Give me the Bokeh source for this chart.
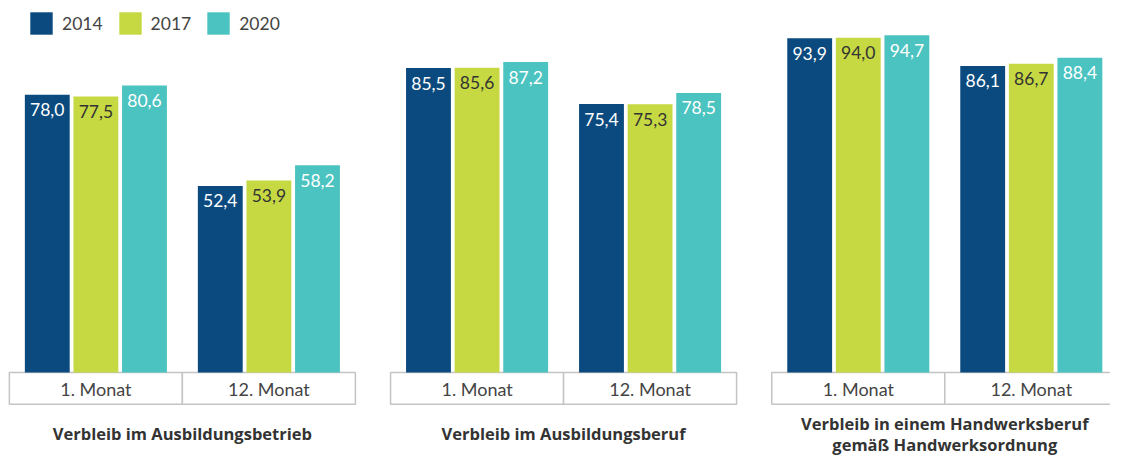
from bokeh.plotting import figure
from bokeh.models import Range1d, Legend, LegendItem, ColumnDataSource
from bokeh.core.properties import value
from bokeh.embed import file_html
from bokeh.resources import INLINE

# ---- data ----
panels = ["Verbleib im Ausbildungsbetrieb",
          "Verbleib im Ausbildungsberuf",
          "Verbleib in einem Handwerksberuf\ngemäß Handwerksordnung"]
months = ["1. Monat", "12. Monat"]
years = ["2014", "2017", "2020"]
# order: panel1 m1, panel1 m12, panel2 m1, panel2 m12, panel3 m1, panel3 m12
v2014 = [78.0, 52.4, 85.5, 75.4, 93.9, 86.1]
v2017 = [77.5, 53.9, 85.6, 75.3, 94.0, 86.7]
v2020 = [80.6, 58.2, 87.2, 78.5, 94.7, 88.4]
series = [v2014, v2017, v2020]

colors = ["#0b4a7e", "#c6d943", "#4bc3c0"]
label_colors = ["white", "#333333", "white"]

# ---- layout ----
W, H = 1110, 456
SX, SY = W / 1126, H / 472          # fit the 1126x472 design into the frame
PPU = 3.685 * SY                    # pixels per percentage point
BASE = 385 * SY                     # baseline, canvas pixels from top

def vy(canvas_y):
    return (BASE - canvas_y) / PPU

panel_left0, panel_pitch, half = 9.0 * SX, 386.7 * SX, 175.5 * SX
bar_w, bar_pitch = 45.5 * SX, 49.3 * SX
inner = (half - (2 * bar_pitch + bar_w)) / 2

p = figure(width=W, height=H, x_range=Range1d(0, W),
           y_range=Range1d(vy(H), vy(0)),
           x_axis_type=None, y_axis_type=None, min_border=0,
           outline_line_color=None, toolbar_location=None,
           output_backend="svg", background_fill_color="white")
p.xgrid.visible = False
p.ygrid.visible = False

# category boxes
bl, br, bx, btxt = [], [], [], []
for i in range(len(panels)):
    for m, mname in enumerate(months):
        left = panel_left0 + i * panel_pitch + m * half
        bl.append(left); br.append(left + half)
        bx.append(left + half / 2); btxt.append(mname)
p.quad(left=bl, right=br, top=[0] * len(bl), bottom=[vy(418 * SY)] * len(bl),
       fill_color="white", line_color="#c4c4c4", line_width=1.5)
p.text(x=bx, y=[vy(402.5 * SY)] * len(bx), text=btxt, text_align="center",
       text_baseline="middle", text_font=value("Lato"),
       text_font_size="18px", text_color="#444444")

# bars
renderers = []
for k, (yr, vals) in enumerate(zip(years, series)):
    xs = []
    for g in range(len(vals)):
        i, m = divmod(g, 2)
        left = panel_left0 + i * panel_pitch + m * half + inner
        xs.append(left + bar_w / 2 + k * bar_pitch)
    src = ColumnDataSource(dict(x=xs, top=vals,
                                lab=[f"{v:.1f}".replace(".", ",") for v in vals]))
    r = p.vbar(x="x", top="top", bottom=0, width=bar_w, source=src,
               fill_color=colors[k], line_color=None)
    renderers.append(r)
    p.text(x="x", y="top", text="lab", source=src, text_align="center",
           text_baseline="middle", y_offset=15, text_font=value("Lato"),
           text_font_size="17.5px", text_color=label_colors[k])

# panel titles
tx, ty, tt = [], [], []
for i, title in enumerate(panels):
    lines = title.split("\n")
    n = len(lines)
    for j, line in enumerate(lines):
        tx.append(panel_left0 + i * panel_pitch + half)
        ty.append(vy(433 + (j - (n - 1) / 2) * 21))
        tt.append(line)
p.text(x=tx, y=ty, text=tt, text_align="center", text_baseline="middle",
       text_font=value("Open Sans"), text_font_size="16.5px",
       text_font_style="bold", text_color="#333333")

legend = Legend(items=[LegendItem(label=yr, renderers=[r]) for yr, r in zip(years, renderers)],
                orientation="horizontal", location=(27, 419),
                glyph_width=28, glyph_height=28, label_standoff=7, spacing=13,
                padding=0, margin=0, border_line_color=None,
                background_fill_alpha=0, label_text_font="Lato",
                label_text_font_size="17.5px", label_text_color="#444444")
p.add_layout(legend)

open("out.html", "w").write(file_html(p, INLINE))
